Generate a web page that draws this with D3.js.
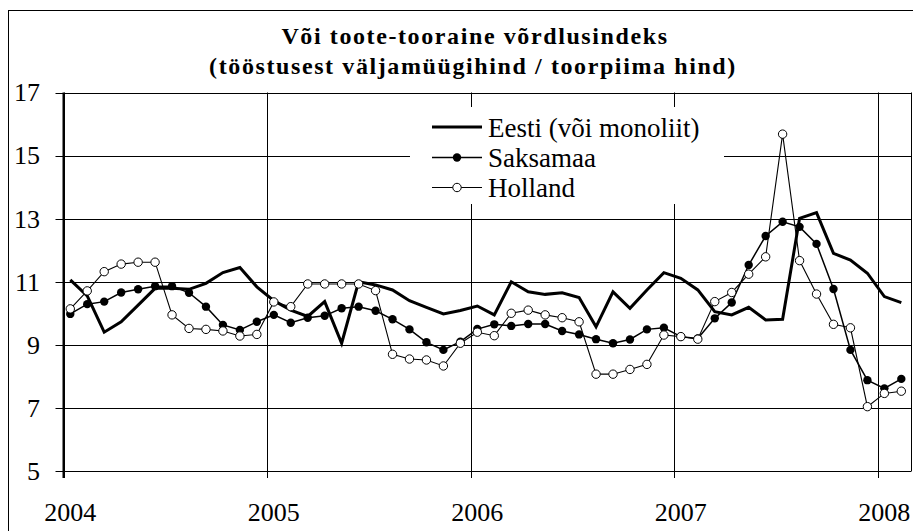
<!DOCTYPE html>
<html>
<head>
<meta charset="utf-8">
<script src="https://cdn.jsdelivr.net/npm/d3@7"></script>
<style>
  html, body { margin: 0; padding: 0; background: #fff; }
  svg { display: block; }
</style>
</head>
<body>
<div id="chart"></div>
<script>
// monthly values, Jan 2004 .. Feb 2008
const yearLabels = ["2004", "2005", "2006", "2007", "2008"];
const yTicks = [5, 7, 9, 11, 13, 15, 17];

const eesti = [
  11.06, 10.55, 9.40, 9.73, 10.26, 10.79, 10.79, 10.76, 10.95, 11.29, 11.45, 10.84,
  10.40, 10.10, 9.90, 10.37, 9.05, 11.00, 10.90, 10.74, 10.40, 10.19, 9.98, 10.09,
  10.23, 9.95, 11.00, 10.68, 10.60, 10.65, 10.50, 9.57, 10.68, 10.16, 10.74, 11.29,
  11.11, 10.74, 10.05, 9.95, 10.19, 9.79, 9.81, 13.01, 13.19, 11.90, 11.69, 11.27,
  10.53, 10.34
];
const saksamaa = [
  9.98, 10.29, 10.37, 10.66, 10.76, 10.86, 10.86, 10.65, 10.21, 9.63, 9.47, 9.73,
  9.95, 9.70, 9.86, 9.92, 10.16, 10.21, 10.08, 9.81, 9.49, 9.08, 8.84, 9.10,
  9.50, 9.65, 9.60, 9.66, 9.66, 9.44, 9.33, 9.18, 9.05, 9.17, 9.49, 9.54,
  9.26, 9.20, 9.84, 10.34, 11.53, 12.45, 12.90, 12.74, 12.20, 10.77, 8.84, 7.88,
  7.62, 7.92
];
const holland = [
  10.14, 10.71, 11.32, 11.56, 11.62, 11.62, 9.95, 9.52, 9.49, 9.44, 9.28, 9.33,
  10.36, 10.21, 10.93, 10.93, 10.93, 10.93, 10.72, 8.70, 8.55, 8.52, 8.33, 9.05,
  9.40, 9.29, 10.00, 10.10, 9.95, 9.86, 9.73, 8.07, 8.07, 8.22, 8.38, 9.31,
  9.26, 9.18, 10.37, 10.66, 11.24, 11.79, 15.68, 11.67, 10.61, 9.65, 9.54, 7.04,
  7.46, 7.53
];
const seriesNames = ["Eesti (või monoliit)", "Saksamaa", "Holland"];

const W = 913, H = 531;
const plotL = 63.5, plotR = 911.5, plotT = 92.5, plotB = 471;
const offset = 0.4; // points sit a bit after the month start
const FONT = "Liberation Serif";

const svg = d3.select("#chart").append("svg")
  .attr("width", W).attr("height", H);

// outer frame
svg.append("rect")
  .attr("x", 8.5).attr("y", 10.5)
  .attr("width", 910).attr("height", 530)
  .attr("fill", "#fff").attr("stroke", "#000").attr("stroke-width", 1);

const x = d3.scaleLinear().domain([0, 50]).range([plotL, plotR]);
const y = d3.scaleLinear().domain([5, 17]).range([plotB, plotT]);

// horizontal gridlines
svg.append("g").selectAll("line")
  .data(yTicks)
  .join("line")
  .attr("x1", plotL - 8).attr("x2", plotR)
  .attr("y1", d => Math.round(y(d)) + 0.5).attr("y2", d => Math.round(y(d)) + 0.5)
  .attr("stroke", "#000").attr("stroke-width", 1);

// vertical gridlines + ticks at year boundaries
svg.append("g").selectAll("line")
  .data(yearLabels.map((d, i) => i * 12))
  .join("line")
  .attr("x1", d => Math.round(x(d)) + 0.5).attr("x2", d => Math.round(x(d)) + 0.5)
  .attr("y1", plotT).attr("y2", plotB + 7)
  .attr("stroke", "#000").attr("stroke-width", 1);

// right edge
svg.append("line")
  .attr("x1", plotR).attr("x2", plotR).attr("y1", plotT).attr("y2", plotB)
  .attr("stroke", "#000");

// left axis (thicker)
svg.append("line")
  .attr("x1", plotL).attr("x2", plotL).attr("y1", plotT).attr("y2", plotB + 7)
  .attr("stroke", "#000").attr("stroke-width", 2);

// y tick labels
svg.append("g").selectAll("text")
  .data(yTicks)
  .join("text")
  .attr("font-family", FONT)
  .attr("x", 40).attr("y", d => y(d))
  .attr("dy", "0.34em")
  .attr("text-anchor", "end")
  .attr("font-size", 26)
  .text(d => d);

// x tick labels
svg.append("g").selectAll("text")
  .data(yearLabels)
  .join("text")
  .attr("font-family", FONT)
  .attr("x", (d, i) => x(i * 12 + offset))
  .attr("y", 521)
  .attr("text-anchor", "middle")
  .attr("font-size", 26)
  .text(d => d);

// legend box (white, hides gridlines)
const lg = svg.append("g");
lg.append("rect")
  .attr("x", 410).attr("y", 107).attr("width", 314).attr("height", 97)
  .attr("fill", "#fff");

// series
const line = d3.line()
  .x((d, i) => x(i + offset))
  .y(d => y(d));

svg.append("path").datum(eesti)
  .attr("d", line).attr("fill", "none")
  .attr("stroke", "#000").attr("stroke-width", 3).attr("stroke-linejoin", "miter");

svg.append("path").datum(saksamaa)
  .attr("d", line).attr("fill", "none")
  .attr("stroke", "#000").attr("stroke-width", 1.5);
svg.append("g").selectAll("circle")
  .data(saksamaa)
  .join("circle")
  .attr("cx", (d, i) => x(i + offset)).attr("cy", d => y(d))
  .attr("r", 4.2).attr("fill", "#000");

svg.append("path").datum(holland)
  .attr("d", line).attr("fill", "none")
  .attr("stroke", "#000").attr("stroke-width", 1.1);
svg.append("g").selectAll("circle")
  .data(holland)
  .join("circle")
  .attr("cx", (d, i) => x(i + offset)).attr("cy", d => y(d))
  .attr("r", 4.2).attr("fill", "#fff").attr("stroke", "#000").attr("stroke-width", 1);

// legend entries
const rowsY = [127, 157.5, 187.5];
seriesNames.forEach((name, i) => {
  const g = lg.append("g");
  g.append("line")
    .attr("x1", 432).attr("x2", 482).attr("y1", rowsY[i]).attr("y2", rowsY[i])
    .attr("stroke", "#000").attr("stroke-width", i === 0 ? 3 : (i === 1 ? 1.5 : 1.1));
  if (i === 1) {
    g.append("circle").attr("cx", 457).attr("cy", rowsY[i]).attr("r", 4.2).attr("fill", "#000");
  } else if (i === 2) {
    g.append("circle").attr("cx", 457).attr("cy", rowsY[i]).attr("r", 4.2)
      .attr("fill", "#fff").attr("stroke", "#000");
  }
  g.append("text")
    .attr("font-family", FONT)
    .attr("x", 488).attr("y", rowsY[i] + 9.5)
    .attr("font-size", 27)
    .text(name);
});

// title
const titleLines = ["Või toote-tooraine võrdlusindeks", "(tööstusest väljamüügihind / toorpiima hind)"];
svg.append("g").selectAll("text")
  .data(titleLines)
  .join("text")
  .attr("font-family", FONT)
  .attr("font-weight", "bold").attr("font-size", 24)
  .attr("text-anchor", "middle").attr("letter-spacing", "1.6px")
  .attr("x", (d, i) => i === 0 ? 475 : 473)
  .attr("y", (d, i) => 43.5 + i * 30)
  .text(d => d);
</script>
</body>
</html>
